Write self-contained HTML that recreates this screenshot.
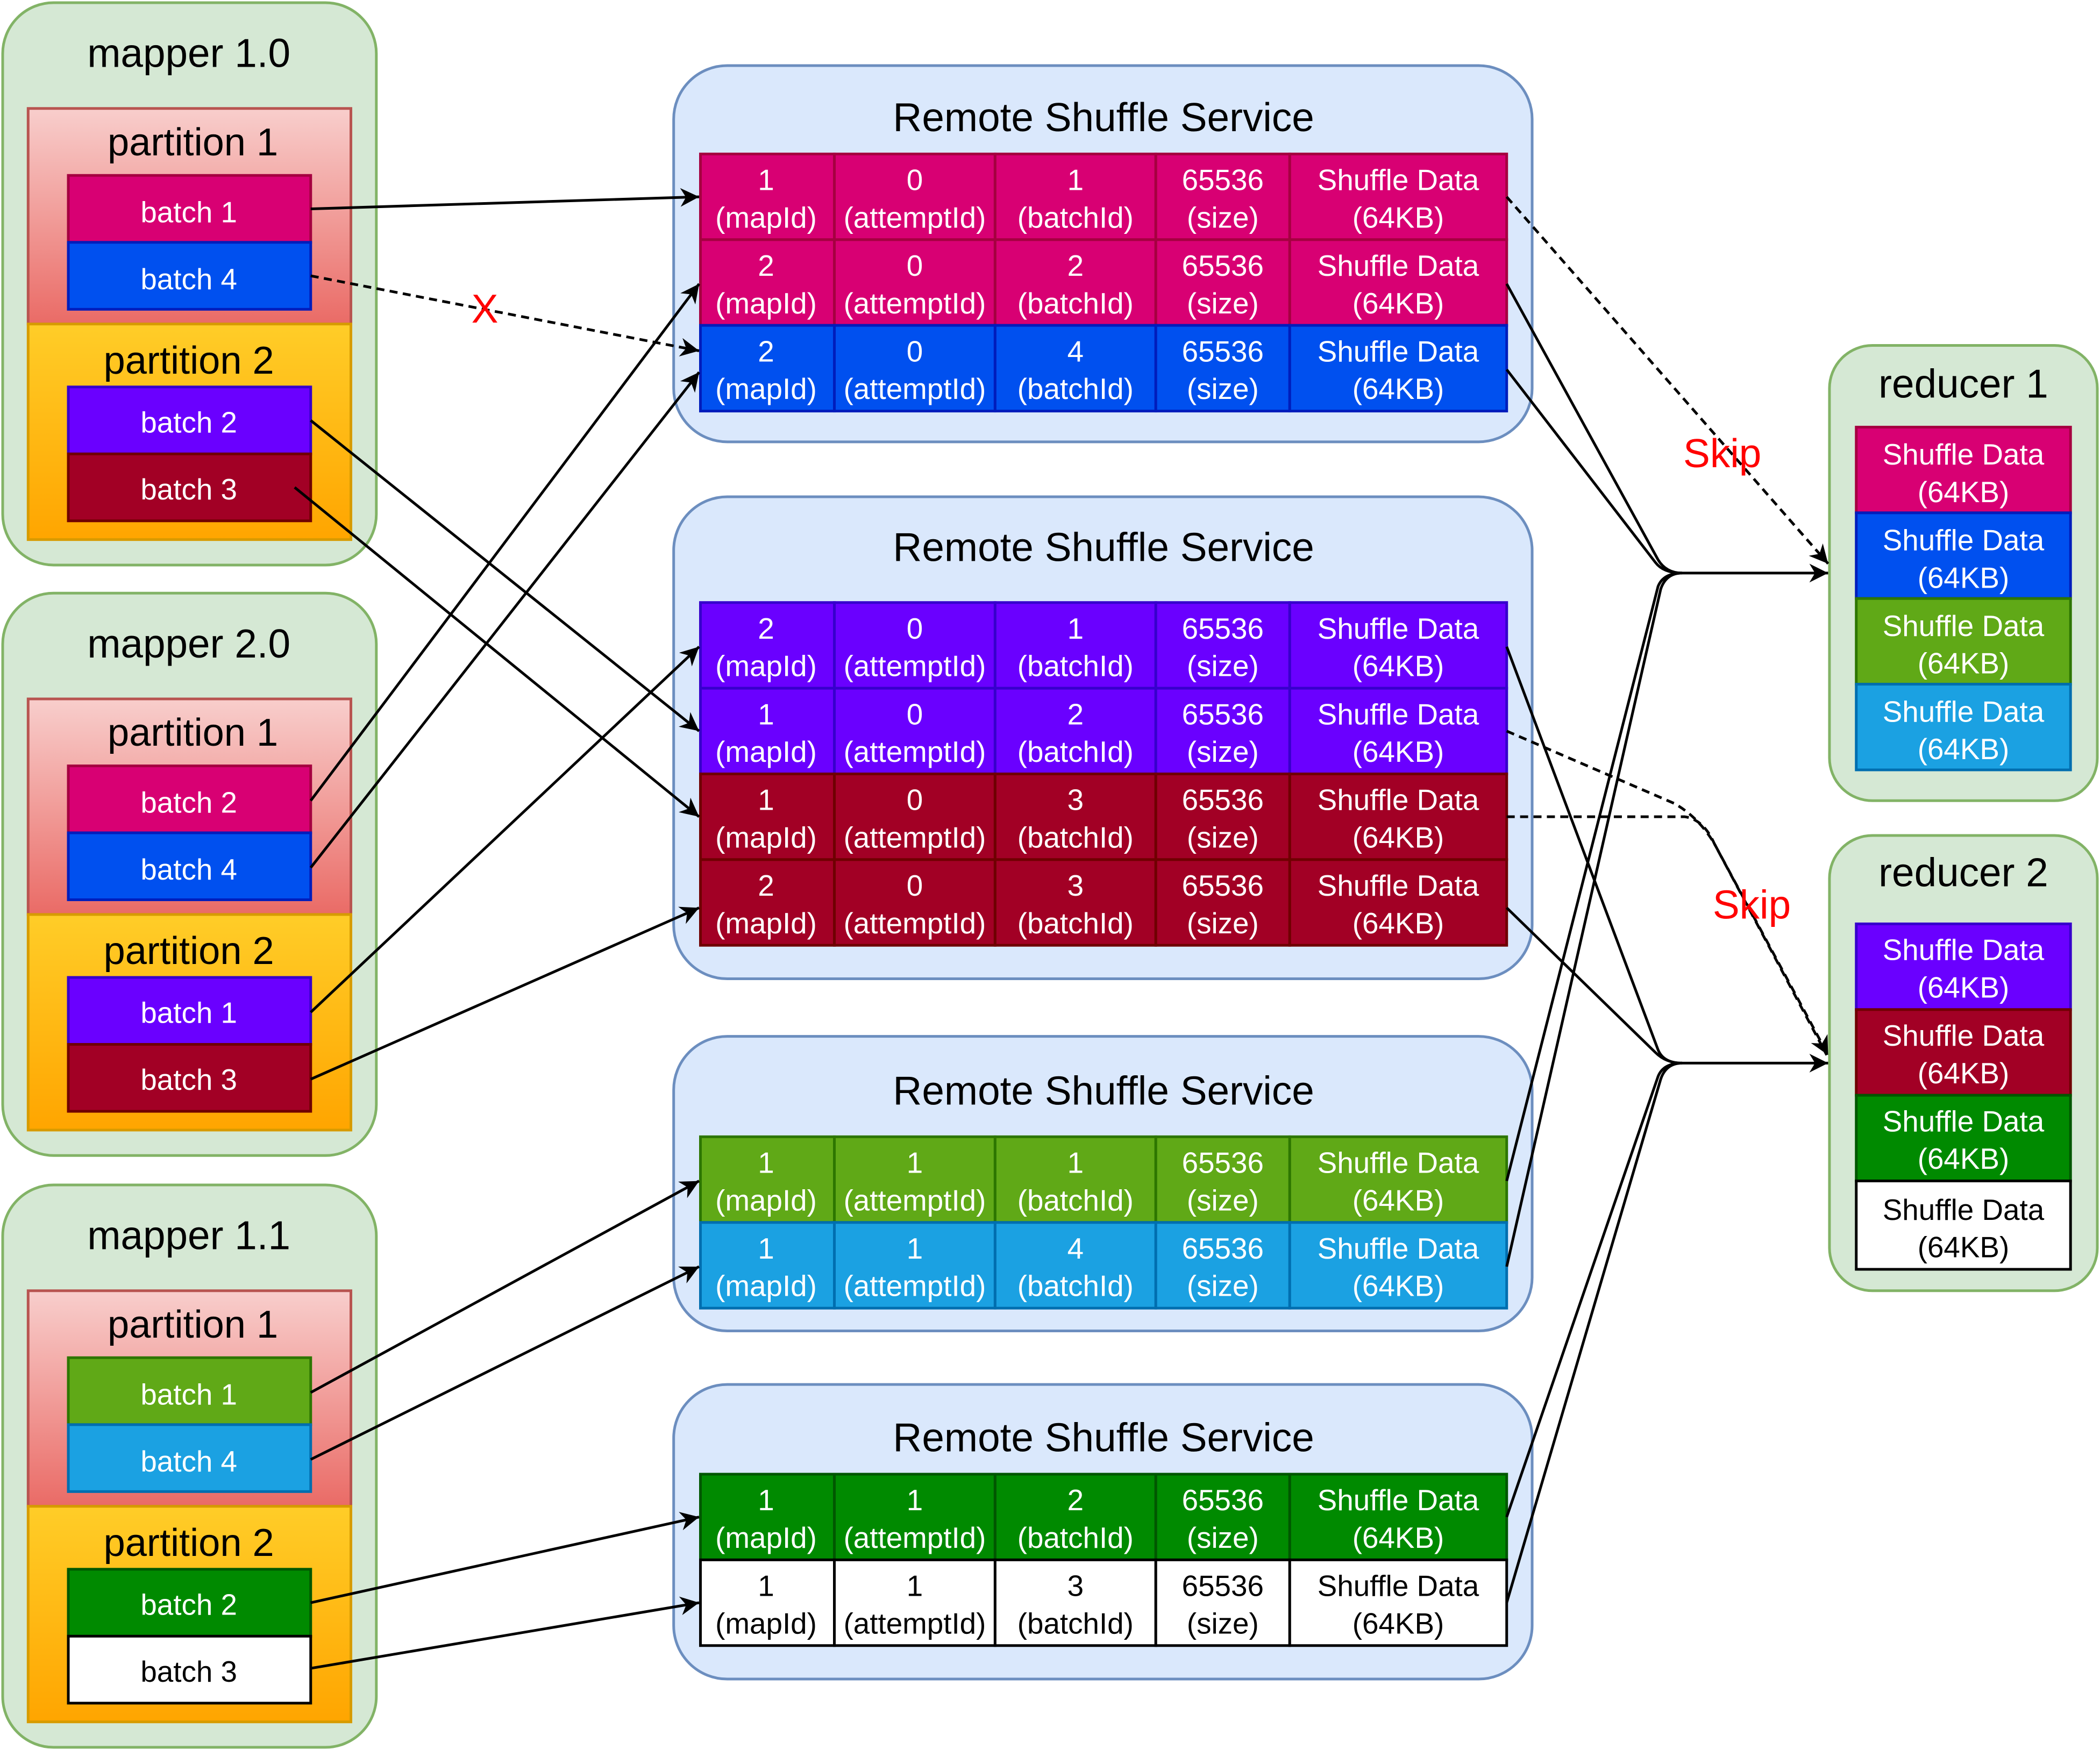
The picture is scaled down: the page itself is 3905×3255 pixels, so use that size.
<!DOCTYPE html>
<html><head><meta charset="utf-8"><style>
html,body{margin:0;padding:0;background:#fff}
svg{display:block}
text{font-family:"Liberation Sans",Arial,sans-serif}
.w{fill:#fff;font-size:22px;text-anchor:middle}
.k{fill:#000;font-size:22px;text-anchor:middle}
.t{fill:#000;font-size:30px;text-anchor:middle}
.p{fill:#000;font-size:29px;text-anchor:middle}
.ln{stroke:#000;stroke-width:2;fill:none}
</style></head><body>
<svg width="3905" height="3255" viewBox="0 0 1568 1307" xmlns="http://www.w3.org/2000/svg">
<defs>
<linearGradient id="gr" x1="0" y1="0" x2="0" y2="1"><stop offset="0" stop-color="#f8cecc"/><stop offset="1" stop-color="#ea6b66"/></linearGradient>
<linearGradient id="go" x1="0" y1="0" x2="0" y2="1"><stop offset="0" stop-color="#ffcd28"/><stop offset="1" stop-color="#ffa500"/></linearGradient>
<marker id="a" viewBox="0 0 10 10" refX="10" refY="5" markerWidth="14" markerHeight="14" markerUnits="userSpaceOnUse" orient="auto"><path d="M0,0 L10,5 L0,10 L3,5 z" fill="#000"/></marker>
</defs>

<g>
<rect x="2" y="2" width="279" height="420" rx="38" fill="#d5e8d4" stroke="#82b366" stroke-width="2"/>
<text class="t" x="141" y="50">mapper 1.0</text>
<rect x="21" y="81" width="241" height="161" fill="url(#gr)" stroke="#b85450" stroke-width="2"/>
<text class="p" x="144" y="116">partition 1</text>
<rect x="51" y="131" width="181" height="50" fill="#d80073" stroke="#a50040" stroke-width="2"/><text class="w" x="141" y="166">batch 1</text>
<rect x="51" y="181" width="181" height="50" fill="#0050ef" stroke="#001dbc" stroke-width="2"/><text class="w" x="141" y="216">batch 4</text>
<rect x="21" y="242" width="241" height="161" fill="url(#go)" stroke="#d79b00" stroke-width="2"/>
<text class="p" x="141" y="279">partition 2</text>
<rect x="51" y="289" width="181" height="50" fill="#6a00ff" stroke="#3700cc" stroke-width="2"/><text class="w" x="141" y="323">batch 2</text>
<rect x="51" y="339" width="181" height="50" fill="#a20025" stroke="#6f0000" stroke-width="2"/><text class="w" x="141" y="373">batch 3</text>
</g>
<g transform="translate(0,441)">
<rect x="2" y="2" width="279" height="420" rx="38" fill="#d5e8d4" stroke="#82b366" stroke-width="2"/>
<text class="t" x="141" y="50">mapper 2.0</text>
<rect x="21" y="81" width="241" height="161" fill="url(#gr)" stroke="#b85450" stroke-width="2"/>
<text class="p" x="144" y="116">partition 1</text>
<rect x="51" y="131" width="181" height="50" fill="#d80073" stroke="#a50040" stroke-width="2"/><text class="w" x="141" y="166">batch 2</text>
<rect x="51" y="181" width="181" height="50" fill="#0050ef" stroke="#001dbc" stroke-width="2"/><text class="w" x="141" y="216">batch 4</text>
<rect x="21" y="242" width="241" height="161" fill="url(#go)" stroke="#d79b00" stroke-width="2"/>
<text class="p" x="141" y="279">partition 2</text>
<rect x="51" y="289" width="181" height="50" fill="#6a00ff" stroke="#3700cc" stroke-width="2"/><text class="w" x="141" y="323">batch 1</text>
<rect x="51" y="339" width="181" height="50" fill="#a20025" stroke="#6f0000" stroke-width="2"/><text class="w" x="141" y="373">batch 3</text>
</g>
<g transform="translate(0,883)">
<rect x="2" y="2" width="279" height="420" rx="38" fill="#d5e8d4" stroke="#82b366" stroke-width="2"/>
<text class="t" x="141" y="50">mapper 1.1</text>
<rect x="21" y="81" width="241" height="161" fill="url(#gr)" stroke="#b85450" stroke-width="2"/>
<text class="p" x="144" y="116">partition 1</text>
<rect x="51" y="131" width="181" height="50" fill="#60a917" stroke="#2d7600" stroke-width="2"/><text class="w" x="141" y="166">batch 1</text>
<rect x="51" y="181" width="181" height="50" fill="#1ba1e2" stroke="#006eaf" stroke-width="2"/><text class="w" x="141" y="216">batch 4</text>
<rect x="21" y="242" width="241" height="161" fill="url(#go)" stroke="#d79b00" stroke-width="2"/>
<text class="p" x="141" y="279">partition 2</text>
<rect x="51" y="289" width="181" height="50" fill="#008a00" stroke="#005700" stroke-width="2"/><text class="w" x="141" y="323">batch 2</text>
<rect x="51" y="339" width="181" height="50" fill="#ffffff" stroke="#000" stroke-width="2"/><text class="k" x="141" y="373">batch 3</text>
</g>

<rect x="503" y="49" width="641" height="281" rx="40" fill="#dae8fc" stroke="#6c8ebf" stroke-width="2"/>
<text class="t" x="824" y="98">Remote Shuffle Service</text>
<rect x="503" y="371" width="641" height="360" rx="40" fill="#dae8fc" stroke="#6c8ebf" stroke-width="2"/>
<text class="t" x="824" y="419">Remote Shuffle Service</text>
<rect x="503" y="774" width="641" height="220" rx="40" fill="#dae8fc" stroke="#6c8ebf" stroke-width="2"/>
<text class="t" x="824" y="825">Remote Shuffle Service</text>
<rect x="503" y="1034" width="641" height="220" rx="40" fill="#dae8fc" stroke="#6c8ebf" stroke-width="2"/>
<text class="t" x="824" y="1084">Remote Shuffle Service</text>

<g id="rows">
<g transform="translate(0,115)" fill="#d80073" stroke="#a50040" stroke-width="2">
<rect x="523" y="0" width="100" height="64"/><rect x="623" y="0" width="120" height="64"/><rect x="743" y="0" width="120" height="64"/><rect x="863" y="0" width="100" height="64"/><rect x="963" y="0" width="162" height="64"/>
<g stroke="none"><text class="w" x="572" y="27">1</text><text class="w" x="572" y="55">(mapId)</text><text class="w" x="683" y="27">0</text><text class="w" x="683" y="55">(attemptId)</text><text class="w" x="803" y="27">1</text><text class="w" x="803" y="55">(batchId)</text><text class="w" x="913" y="27">65536</text><text class="w" x="913" y="55">(size)</text><text class="w" x="1044" y="27">Shuffle Data</text><text class="w" x="1044" y="55">(64KB)</text></g></g>
<g transform="translate(0,179)" fill="#d80073" stroke="#a50040" stroke-width="2">
<rect x="523" y="0" width="100" height="64"/><rect x="623" y="0" width="120" height="64"/><rect x="743" y="0" width="120" height="64"/><rect x="863" y="0" width="100" height="64"/><rect x="963" y="0" width="162" height="64"/>
<g stroke="none"><text class="w" x="572" y="27">2</text><text class="w" x="572" y="55">(mapId)</text><text class="w" x="683" y="27">0</text><text class="w" x="683" y="55">(attemptId)</text><text class="w" x="803" y="27">2</text><text class="w" x="803" y="55">(batchId)</text><text class="w" x="913" y="27">65536</text><text class="w" x="913" y="55">(size)</text><text class="w" x="1044" y="27">Shuffle Data</text><text class="w" x="1044" y="55">(64KB)</text></g></g>
<g transform="translate(0,243)" fill="#0050ef" stroke="#001dbc" stroke-width="2">
<rect x="523" y="0" width="100" height="64"/><rect x="623" y="0" width="120" height="64"/><rect x="743" y="0" width="120" height="64"/><rect x="863" y="0" width="100" height="64"/><rect x="963" y="0" width="162" height="64"/>
<g stroke="none"><text class="w" x="572" y="27">2</text><text class="w" x="572" y="55">(mapId)</text><text class="w" x="683" y="27">0</text><text class="w" x="683" y="55">(attemptId)</text><text class="w" x="803" y="27">4</text><text class="w" x="803" y="55">(batchId)</text><text class="w" x="913" y="27">65536</text><text class="w" x="913" y="55">(size)</text><text class="w" x="1044" y="27">Shuffle Data</text><text class="w" x="1044" y="55">(64KB)</text></g></g>

<g transform="translate(0,450)" fill="#6a00ff" stroke="#3700cc" stroke-width="2">
<rect x="523" y="0" width="100" height="64"/><rect x="623" y="0" width="120" height="64"/><rect x="743" y="0" width="120" height="64"/><rect x="863" y="0" width="100" height="64"/><rect x="963" y="0" width="162" height="64"/>
<g stroke="none"><text class="w" x="572" y="27">2</text><text class="w" x="572" y="55">(mapId)</text><text class="w" x="683" y="27">0</text><text class="w" x="683" y="55">(attemptId)</text><text class="w" x="803" y="27">1</text><text class="w" x="803" y="55">(batchId)</text><text class="w" x="913" y="27">65536</text><text class="w" x="913" y="55">(size)</text><text class="w" x="1044" y="27">Shuffle Data</text><text class="w" x="1044" y="55">(64KB)</text></g></g>
<g transform="translate(0,514)" fill="#6a00ff" stroke="#3700cc" stroke-width="2">
<rect x="523" y="0" width="100" height="64"/><rect x="623" y="0" width="120" height="64"/><rect x="743" y="0" width="120" height="64"/><rect x="863" y="0" width="100" height="64"/><rect x="963" y="0" width="162" height="64"/>
<g stroke="none"><text class="w" x="572" y="27">1</text><text class="w" x="572" y="55">(mapId)</text><text class="w" x="683" y="27">0</text><text class="w" x="683" y="55">(attemptId)</text><text class="w" x="803" y="27">2</text><text class="w" x="803" y="55">(batchId)</text><text class="w" x="913" y="27">65536</text><text class="w" x="913" y="55">(size)</text><text class="w" x="1044" y="27">Shuffle Data</text><text class="w" x="1044" y="55">(64KB)</text></g></g>
<g transform="translate(0,578)" fill="#a20025" stroke="#6f0000" stroke-width="2">
<rect x="523" y="0" width="100" height="64"/><rect x="623" y="0" width="120" height="64"/><rect x="743" y="0" width="120" height="64"/><rect x="863" y="0" width="100" height="64"/><rect x="963" y="0" width="162" height="64"/>
<g stroke="none"><text class="w" x="572" y="27">1</text><text class="w" x="572" y="55">(mapId)</text><text class="w" x="683" y="27">0</text><text class="w" x="683" y="55">(attemptId)</text><text class="w" x="803" y="27">3</text><text class="w" x="803" y="55">(batchId)</text><text class="w" x="913" y="27">65536</text><text class="w" x="913" y="55">(size)</text><text class="w" x="1044" y="27">Shuffle Data</text><text class="w" x="1044" y="55">(64KB)</text></g></g>
<g transform="translate(0,642)" fill="#a20025" stroke="#6f0000" stroke-width="2">
<rect x="523" y="0" width="100" height="64"/><rect x="623" y="0" width="120" height="64"/><rect x="743" y="0" width="120" height="64"/><rect x="863" y="0" width="100" height="64"/><rect x="963" y="0" width="162" height="64"/>
<g stroke="none"><text class="w" x="572" y="27">2</text><text class="w" x="572" y="55">(mapId)</text><text class="w" x="683" y="27">0</text><text class="w" x="683" y="55">(attemptId)</text><text class="w" x="803" y="27">3</text><text class="w" x="803" y="55">(batchId)</text><text class="w" x="913" y="27">65536</text><text class="w" x="913" y="55">(size)</text><text class="w" x="1044" y="27">Shuffle Data</text><text class="w" x="1044" y="55">(64KB)</text></g></g>

<g transform="translate(0,849)" fill="#60a917" stroke="#2d7600" stroke-width="2">
<rect x="523" y="0" width="100" height="64"/><rect x="623" y="0" width="120" height="64"/><rect x="743" y="0" width="120" height="64"/><rect x="863" y="0" width="100" height="64"/><rect x="963" y="0" width="162" height="64"/>
<g stroke="none"><text class="w" x="572" y="27">1</text><text class="w" x="572" y="55">(mapId)</text><text class="w" x="683" y="27">1</text><text class="w" x="683" y="55">(attemptId)</text><text class="w" x="803" y="27">1</text><text class="w" x="803" y="55">(batchId)</text><text class="w" x="913" y="27">65536</text><text class="w" x="913" y="55">(size)</text><text class="w" x="1044" y="27">Shuffle Data</text><text class="w" x="1044" y="55">(64KB)</text></g></g>
<g transform="translate(0,913)" fill="#1ba1e2" stroke="#006eaf" stroke-width="2">
<rect x="523" y="0" width="100" height="64"/><rect x="623" y="0" width="120" height="64"/><rect x="743" y="0" width="120" height="64"/><rect x="863" y="0" width="100" height="64"/><rect x="963" y="0" width="162" height="64"/>
<g stroke="none"><text class="w" x="572" y="27">1</text><text class="w" x="572" y="55">(mapId)</text><text class="w" x="683" y="27">1</text><text class="w" x="683" y="55">(attemptId)</text><text class="w" x="803" y="27">4</text><text class="w" x="803" y="55">(batchId)</text><text class="w" x="913" y="27">65536</text><text class="w" x="913" y="55">(size)</text><text class="w" x="1044" y="27">Shuffle Data</text><text class="w" x="1044" y="55">(64KB)</text></g></g>

<g transform="translate(0,1101)" fill="#008a00" stroke="#005700" stroke-width="2">
<rect x="523" y="0" width="100" height="64"/><rect x="623" y="0" width="120" height="64"/><rect x="743" y="0" width="120" height="64"/><rect x="863" y="0" width="100" height="64"/><rect x="963" y="0" width="162" height="64"/>
<g stroke="none"><text class="w" x="572" y="27">1</text><text class="w" x="572" y="55">(mapId)</text><text class="w" x="683" y="27">1</text><text class="w" x="683" y="55">(attemptId)</text><text class="w" x="803" y="27">2</text><text class="w" x="803" y="55">(batchId)</text><text class="w" x="913" y="27">65536</text><text class="w" x="913" y="55">(size)</text><text class="w" x="1044" y="27">Shuffle Data</text><text class="w" x="1044" y="55">(64KB)</text></g></g>
<g transform="translate(0,1165)" fill="#ffffff" stroke="#000" stroke-width="2">
<rect x="523" y="0" width="100" height="64"/><rect x="623" y="0" width="120" height="64"/><rect x="743" y="0" width="120" height="64"/><rect x="863" y="0" width="100" height="64"/><rect x="963" y="0" width="162" height="64"/>
<g stroke="none"><text class="k" x="572" y="27">1</text><text class="k" x="572" y="55">(mapId)</text><text class="k" x="683" y="27">1</text><text class="k" x="683" y="55">(attemptId)</text><text class="k" x="803" y="27">3</text><text class="k" x="803" y="55">(batchId)</text><text class="k" x="913" y="27">65536</text><text class="k" x="913" y="55">(size)</text><text class="k" x="1044" y="27">Shuffle Data</text><text class="k" x="1044" y="55">(64KB)</text></g></g>
</g>

<rect x="1366" y="258" width="200" height="340" rx="32" fill="#d5e8d4" stroke="#82b366" stroke-width="2"/>
<text class="t" x="1466" y="297">reducer 1</text>
<rect x="1386" y="319" width="160" height="64" fill="#d80073" stroke="#a50040" stroke-width="2"/><text class="w" x="1466" y="347">Shuffle Data</text><text class="w" x="1466" y="375">(64KB)</text>
<rect x="1386" y="383" width="160" height="64" fill="#0050ef" stroke="#001dbc" stroke-width="2"/><text class="w" x="1466" y="411">Shuffle Data</text><text class="w" x="1466" y="439">(64KB)</text>
<rect x="1386" y="447" width="160" height="64" fill="#60a917" stroke="#2d7600" stroke-width="2"/><text class="w" x="1466" y="475">Shuffle Data</text><text class="w" x="1466" y="503">(64KB)</text>
<rect x="1386" y="511" width="160" height="64" fill="#1ba1e2" stroke="#006eaf" stroke-width="2"/><text class="w" x="1466" y="539">Shuffle Data</text><text class="w" x="1466" y="567">(64KB)</text>

<rect x="1366" y="624" width="200" height="340" rx="32" fill="#d5e8d4" stroke="#82b366" stroke-width="2"/>
<text class="t" x="1466" y="662">reducer 2</text>
<rect x="1386" y="690" width="160" height="64" fill="#6a00ff" stroke="#3700cc" stroke-width="2"/><text class="w" x="1466" y="717">Shuffle Data</text><text class="w" x="1466" y="745">(64KB)</text>
<rect x="1386" y="754" width="160" height="64" fill="#a20025" stroke="#6f0000" stroke-width="2"/><text class="w" x="1466" y="781">Shuffle Data</text><text class="w" x="1466" y="809">(64KB)</text>
<rect x="1386" y="818" width="160" height="64" fill="#008a00" stroke="#005700" stroke-width="2"/><text class="w" x="1466" y="845">Shuffle Data</text><text class="w" x="1466" y="873">(64KB)</text>
<rect x="1386" y="882" width="160" height="66" fill="#ffffff" stroke="#000" stroke-width="2"/><text class="k" x="1466" y="911">Shuffle Data</text><text class="k" x="1466" y="939">(64KB)</text>

<g class="ln">
<path d="M232,156 L522,147" marker-end="url(#a)"/>
<path d="M232,206 L522,262" stroke-dasharray="6,4" marker-end="url(#a)"/>
<path d="M232,314 L522,546" marker-end="url(#a)"/>
<path d="M220,364 L522,610" marker-end="url(#a)"/>
<path d="M232,598 L522,212" marker-end="url(#a)"/>
<path d="M232,648 L522,278" marker-end="url(#a)"/>
<path d="M232,756 L522,483" marker-end="url(#a)"/>
<path d="M232,806 L522,678" marker-end="url(#a)"/>
<path d="M232,1040 L522,882" marker-end="url(#a)"/>
<path d="M232,1090 L522,946" marker-end="url(#a)"/>
<path d="M232,1197 L522,1133" marker-end="url(#a)"/>
<path d="M232,1246 L522,1197" marker-end="url(#a)"/>
</g>
<text x="362" y="241" fill="#ff0000" font-size="30" text-anchor="middle">X</text>

<g class="ln">
<path d="M1125,147 L1365,421" stroke-dasharray="6,4" marker-end="url(#a)"/>
<path d="M1125,212 L1238,418 Q1244,428 1256,428"/>
<path d="M1125,276 L1236,420 Q1242,428 1256,428"/>
<path d="M1125,882 L1238,438 Q1242,428 1256,428"/>
<path d="M1125,946 L1240,440 Q1244,428 1256,428"/>
<path d="M1256,428 L1365,428" marker-end="url(#a)"/>

<path d="M1125,483 L1238,784 Q1242,794 1256,794"/>
<path d="M1125,678 L1236,786 Q1244,794 1256,794"/>
<path d="M1125,1133 L1238,804 Q1242,794 1256,794"/>
<path d="M1125,1197 L1240,806 Q1244,794 1256,794"/>
<path d="M1256,794 L1365,794" marker-end="url(#a)"/>
<path d="M1125,546 L1250,600 Q1268,610 1280,630 L1365,788" stroke-dasharray="6,4" marker-end="url(#a)"/>
<path d="M1125,610 L1258,610 Q1272,612 1280,630 L1364,788" stroke-dasharray="6,4"/>
</g>
<text x="1286" y="349" fill="#ff0000" font-size="30" text-anchor="middle">Skip</text>
<text x="1308" y="686" fill="#ff0000" font-size="30" text-anchor="middle">Skip</text>
</svg>
</body></html>
